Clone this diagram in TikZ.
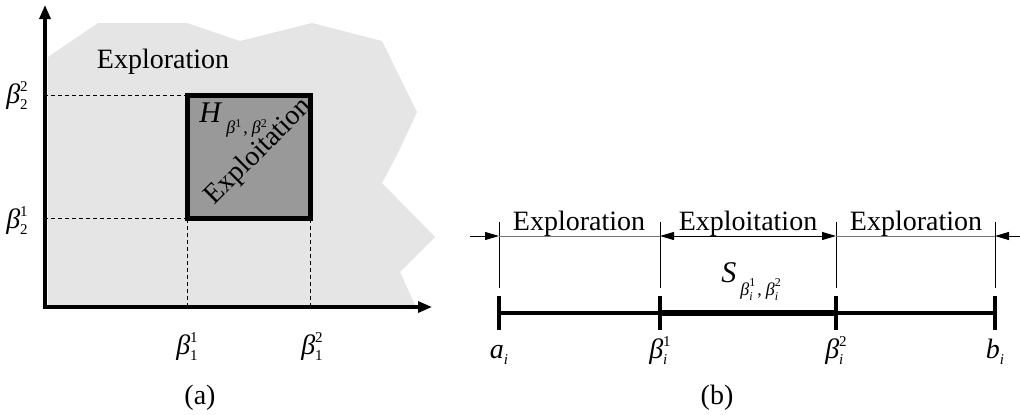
\documentclass[tikz,border=0pt]{standalone}
\usepackage{fontspec}
\setmainfont{Liberation Serif}
\usetikzlibrary{arrows.meta,positioning,calc}
% letter with stacked superscript and subscript
\newcommand{\ixlbl}[3]{\textit{#1}\raisebox{-3pt}{\fontsize{7.5}{8.8}\selectfont\vbox{\hbox{#2}\hbox{#3}}}}
\newcommand{\smallsup}[1]{\raisebox{3pt}{\fontsize{6}{6}\selectfont #1}}
\newcommand{\smallpair}[2]{\raisebox{-2.5pt}{\fontsize{6}{7}\selectfont\vbox{\hbox{#1}\hbox{#2}}}}

\begin{document}
\begin{tikzpicture}[x=0.5pt,y=-0.5pt,font=\fontsize{14}{16}\selectfont,
    axis/.style={line width=1.6pt,{Triangle[length=7pt,width=5.5pt]}-{Triangle[length=7pt,width=5.5pt]}},
    guide/.style={line width=0.4pt,dash pattern=on 2pt off 1.5pt},
    hbox/.style={draw,line width=2.5pt,fill=black!40,outer sep=0pt,
      minimum size=61.5pt,inner sep=0pt},
    dim/.style={line width=0.45pt},
    dimtip/.style={dim,-{Triangle[length=7pt,width=4pt]}},
    seg/.style={line width=1.6pt},
    tick/.style={line width=2.2pt}]
  \useasboundingbox (0,0) rectangle (1020,414);%
  % (a) search region
  \fill[black!10] (48,57) -- (98,23) -- (187,23) -- (240,41) -- (312,23)
    -- (382,41) -- (417,112) -- (398,153) -- (382,183) -- (435,237)
    -- (400,272) -- (415,305) -- (48,307) -- cycle;
  \coordinate (o) at (45,307);%
  \coordinate (ytop) at (45,5);%
  \coordinate (xend) at (432,307);%
  \node[hbox] (hrect) at (249,157) {};%
  \draw[guide] (hrect.north west) -- (hrect.north west -| o);
  \draw[guide] (hrect.south west) -- (hrect.south west -| o);
  \draw[guide] (hrect.south west) -- (hrect.south west |- o);
  \draw[guide] (hrect.south east) -- (hrect.south east |- o);
  \draw[axis] (ytop) -- (o) -- (xend);
  \node[anchor=base] (explA) at (163,68) {Exploration};%
  \node[rotate=45] (exploit) at (259,152) {Exploitation};%
  \node[anchor=base west,inner sep=0pt] (hlbl) at (199,122)
    {\fontsize{15}{16}\selectfont\textit{H}\kern2pt\raisebox{-5.5pt}{\fontsize{9}{10}\selectfont
     \textit{β}\smallsup{1}\kern1pt,\kern2pt\textit{β}\smallsup{2}}};%
  \node[anchor=base] (b22) at (17,103) {\ixlbl{β}{2}{2}};%
  \node[anchor=base] (b21) at (17,228) {\ixlbl{β}{1}{2}};%
  \node[anchor=base] (b11) at (187,354) {\ixlbl{β}{1}{1}};%
  \node[anchor=base] (b12) at (312,354) {\ixlbl{β}{2}{1}};%
  \node[anchor=base] (capa) at (200,404) {(a)};%
  % (b) one coordinate
  \foreach \n/\x in {a/499,p/660,q/836,b/995} {
    \coordinate (\n) at (\x,313);
    \coordinate (\n-top) at (\x,222);
    \coordinate (\n-dim) at (\x,236);
    \coordinate (\n-low) at (\x,288);
    \draw[dim] (\n-top) -- (\n-low);
  }
  \draw[seg] (a) -- (p);
  \draw[seg,line width=2.7pt] (p) -- (q);
  \draw[seg] (q) -- (b);
  \foreach \n in {a,p,q,b}
    \draw[tick] ([yshift=8.4pt]\n) -- ([yshift=-8.4pt]\n);
  \coordinate (lin) at (470,236);%
  \coordinate (rin) at (1020,236);%
  \draw[dimtip] (lin) -- (a-dim);
  \draw[dimtip] (rin) -- (b-dim);
  \draw[dim,black!55] (a-dim) -- (p-dim) (q-dim) -- (b-dim);
  \draw[dim,{Triangle[length=7pt,width=4pt]}-{Triangle[length=7pt,width=4pt]}] (p-dim) -- (q-dim);
  \node[anchor=base] (explL) at (579,230) {Exploration};%
  \node[anchor=base] (exploitB) at (748,230) {Exploitation};%
  \node[anchor=base] (explR) at (916,230) {Exploration};%
  \node[anchor=base west,inner sep=0pt] (slbl) at (721,282)
    {\fontsize{15}{16}\selectfont\textit{S}\kern2pt\raisebox{-6.5pt}{\fontsize{9}{10}\selectfont
     \textit{β}\smallpair{1}{\textit{i}}\kern1pt,\kern2pt\textit{β}\smallpair{2}{\textit{i}}}};%
  \node[anchor=base] (ai) at (499,358) {\textit{a}\raisebox{-3pt}{\fontsize{7.5}{8}\selectfont\textit{i}}};%
  \node[anchor=base] (pi) at (660,358) {\ixlbl{β}{1}{\textit{i}}};%
  \node[anchor=base] (qi) at (836,358) {\ixlbl{β}{2}{\textit{i}}};%
  \node[anchor=base] (bi) at (995,358) {\textit{b}\raisebox{-3pt}{\fontsize{7.5}{8}\selectfont\textit{i}}};%
  \node[anchor=base] (capb) at (717,404) {(b)};%
\end{tikzpicture}
\end{document}
